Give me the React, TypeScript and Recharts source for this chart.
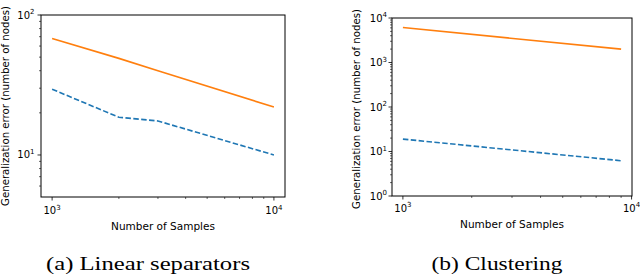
import React from 'react';
import { LineChart, Line, XAxis, YAxis } from 'recharts';

// ---- data ----
const leftSamples = [1000, 2000, 3000, 10000];
const leftOrange = [68, 49, 40, 22];
const leftBlue = [29.5, 18.6, 17.5, 10];

const rightSamples = [1000, 9000];
const rightOrange = [6100, 2000];
const rightBlue = [19, 6.2];

const xTicks = [1000, 2000, 3000, 4000, 5000, 6000, 7000, 8000, 9000, 10000];
const leftYTicks = [6, 7, 8, 9, 10, 20, 30, 40, 50, 60, 70, 80, 90, 100];
const rightYTicks = [
  1, 2, 3, 4, 5, 6, 7, 8, 9,
  10, 20, 30, 40, 50, 60, 70, 80, 90,
  100, 200, 300, 400, 500, 600, 700, 800, 900,
  1000, 2000, 3000, 4000, 5000, 6000, 7000, 8000, 9000,
  10000,
];

const xTitle = 'Number of Samples';
const yTitle = 'Generalization error (number of nodes)';
const captionA = '(a) Linear separators';
const captionB = '(b) Clustering';

const leftData = leftSamples.map((x, i) => ({ x, orange: leftOrange[i], blue: leftBlue[i] }));
const rightData = rightSamples.map((x, i) => ({ x, orange: rightOrange[i], blue: rightBlue[i] }));

const ORANGE = '#ff7f0e';
const BLUE = '#1f77b4';
const SANS = 'DejaVu Sans';
const TICK_FS = 10;

const isMajor = (v: number) => Math.abs(Math.log10(v) - Math.round(Math.log10(v))) < 1e-9;

const makeYTick = (gap: number) => (props: any) => {
  const { x, y, payload } = props;
  const v = payload.value;
  const major = isMajor(v);
  const exp = Math.round(Math.log10(v));
  return (
    <g>
      <line x1={x - (major ? 3.5 : 2)} x2={x} y1={y} y2={y} stroke="#000" strokeWidth={major ? 0.8 : 0.6} />
      {major && (
        <text x={x - gap} y={y + 3.5} textAnchor="end" fontSize={TICK_FS} fontFamily={SANS} fill="#000">
          10<tspan dy={-4.5} fontSize={TICK_FS * 0.7}>{exp}</tspan>
        </text>
      )}
    </g>
  );
};

const makeXTick = (offset: number) => (props: any) => {
  const { x, y, payload } = props;
  const v = payload.value;
  const major = isMajor(v);
  const exp = Math.round(Math.log10(v));
  return (
    <g>
      <line x1={x} x2={x} y1={y} y2={y + (major ? 3.5 : 2)} stroke="#000" strokeWidth={major ? 0.8 : 0.6} />
      {major && (
        <text x={x} y={y + offset} textAnchor="middle" fontSize={TICK_FS} fontFamily={SANS} fill="#000">
          10<tspan dy={-4.5} fontSize={TICK_FS * 0.7}>{exp}</tspan>
        </text>
      )}
    </g>
  );
};

const LeftYTick = makeYTick(6.5);
const RightYTick = makeYTick(5);
const LeftXTick = makeXTick(17);
const RightXTick = makeXTick(15.5);

export default function App() {
  return (
    <div style={{ position: 'fixed', left: 0, top: 0, width: 640, height: 276, background: '#fff' }}>
      <div style={{ position: 'absolute', left: 0, top: 0 }}>
        <LineChart width={320} height={240} data={leftData} margin={{ top: 15, right: 35, bottom: 0, left: 0 }}>
          <XAxis
            dataKey="x"
            type="number"
            scale="log"
            domain={[891, 11220]}
            allowDataOverflow
            ticks={xTicks}
            interval={0}
            height={43}
            axisLine={false}
            tickLine={false}
            tickSize={0}
            tickMargin={0}
            tick={<LeftXTick />}
          />
          <YAxis
            type="number"
            scale="log"
            domain={[5.01, 100]}
            allowDataOverflow
            ticks={leftYTicks}
            interval={0}
            width={41}
            axisLine={false}
            tickLine={false}
            tickSize={0}
            tickMargin={0}
            tick={<LeftYTick />}
          />
          <Line dataKey="blue" stroke={BLUE} strokeWidth={1.6} strokeDasharray="5.5 2.4" dot={false} isAnimationActive={false} />
          <Line dataKey="orange" stroke={ORANGE} strokeWidth={1.6} dot={false} isAnimationActive={false} />
        </LineChart>
      </div>
      <div style={{ position: 'absolute', left: 320, top: 0 }}>
        <LineChart width={320} height={240} data={rightData} margin={{ top: 18, right: 8, bottom: 0, left: 0 }}>
          <XAxis
            dataKey="x"
            type="number"
            scale="log"
            domain={[896, 10044]}
            allowDataOverflow
            ticks={xTicks}
            interval={0}
            height={44}
            axisLine={false}
            tickLine={false}
            tickSize={0}
            tickMargin={0}
            tick={<RightXTick />}
          />
          <YAxis
            type="number"
            scale="log"
            domain={[1, 10000]}
            allowDataOverflow
            ticks={rightYTicks}
            interval={0}
            width={72}
            axisLine={false}
            tickLine={false}
            tickSize={0}
            tickMargin={0}
            tick={<RightYTick />}
          />
          <Line dataKey="blue" stroke={BLUE} strokeWidth={1.6} strokeDasharray="5.5 2.4" dot={false} isAnimationActive={false} />
          <Line dataKey="orange" stroke={ORANGE} strokeWidth={1.6} dot={false} isAnimationActive={false} />
        </LineChart>
      </div>
      <svg width={640} height={276} style={{ position: 'absolute', left: 0, top: 0, pointerEvents: 'none' }}>
        <rect x={41} y={15} width={244} height={182} fill="none" stroke="#000" strokeWidth={1} />
        <rect x={392} y={18} width={240} height={178} fill="none" stroke="#000" strokeWidth={1} />
        <text x={163} y={229.5} textAnchor="middle" fontSize={10.5} fontFamily={SANS} fill="#000">{xTitle}</text>
        <text x={512} y={228} textAnchor="middle" fontSize={10.5} fontFamily={SANS} fill="#000">{xTitle}</text>
        <text transform="translate(9,106) rotate(-90)" textAnchor="middle" fontSize={10.2} fontFamily={SANS} fill="#000">{yTitle}</text>
        <text transform="translate(360,109) rotate(-90)" textAnchor="middle" fontSize={10.2} fontFamily={SANS} fill="#000">{yTitle}</text>
        <text x={148} y={270} textAnchor="middle" fontSize={18} fontFamily="Liberation Serif" fill="#000" textLength={204} lengthAdjust="spacingAndGlyphs">{captionA}</text>
        <text x={497} y={270} textAnchor="middle" fontSize={18} fontFamily="Liberation Serif" fill="#000" textLength={131} lengthAdjust="spacingAndGlyphs">{captionB}</text>
      </svg>
    </div>
  );
}
